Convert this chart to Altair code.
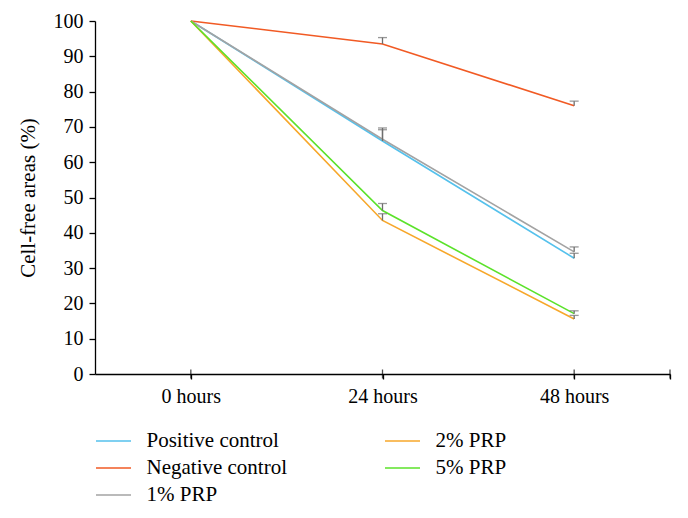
import altair as alt
import pandas as pd

hours = [0, 24, 48]
hour_labels = ["0 hours", "24 hours", "48 hours"]
axis_end = 60

series_names = ["Positive control", "Negative control", "1% PRP", "2% PRP", "5% PRP"]
series_colors = ["#55c1ec", "#f15a24", "#a3a3a3", "#f7a72a", "#5be22a"]

positive_control = [100, 66.0, 32.8]
negative_control = [100, 93.5, 76.0]
prp_1 = [100, 66.5, 34.6]
prp_2 = [100, 43.5, 15.6]
prp_5 = [100, 46.3, 17.1]

err_positive = [0, 3.2, 1.4]
err_negative = [0, 1.8, 1.3]
err_prp1 = [0, 3.2, 1.4]
err_prp2 = [0, 1.9, 1.0]
err_prp5 = [0, 2.0, 0.8]

values = [positive_control, negative_control, prp_1, prp_2, prp_5]
errors = [err_positive, err_negative, err_prp1, err_prp2, err_prp5]

rows = []
for name, vals, errs in zip(series_names, values, errors):
    for h, v, e in zip(hours, vals, errs):
        rows.append({"series": name, "hours": h, "value": v, "upper": v + e, "err": e})
df = pd.DataFrame(rows)

FONT = "Times New Roman, Liberation Serif, DejaVu Serif, serif"

label_expr = ("datum.value == 0 ? '" + hour_labels[0] + "' : datum.value == 24 ? '" + hour_labels[1]
              + "' : datum.value == 48 ? '" + hour_labels[2] + "' : ''")

x_axis = alt.Axis(
    values=hours + [axis_end], labelExpr=label_expr, title=None, grid=False,
    tickSize=5, labelPadding=7, labelFontSize=20, labelFont=FONT,
    domainColor="black", tickColor="black", labelColor="black",
    domainWidth=1.3, tickWidth=1.3, labelFlush=False,
)
x_scale = alt.Scale(domain=[-12, axis_end], nice=False, zero=False)
y_scale = alt.Scale(domain=[0, 100], nice=False)
y_axis = alt.Axis(
    values=list(range(0, 101, 10)), title="Cell-free areas (%)", grid=False,
    tickSize=6, labelPadding=6, labelFontSize=20, labelFont=FONT,
    titleFont=FONT, titleFontSize=21, titleFontWeight="normal", titlePadding=15,
    domainColor="black", tickColor="black", labelColor="black", titleColor="black",
    domainWidth=1.3, tickWidth=1.3,
)

X = alt.X("hours:Q", scale=x_scale, axis=x_axis)

lines = alt.Chart(df).mark_line(strokeWidth=1.6).encode(
    x=X,
    y=alt.Y("value:Q", scale=y_scale, axis=y_axis),
    color=alt.Color(
        "series:N",
        scale=alt.Scale(domain=series_names, range=series_colors),
        legend=alt.Legend(
            title=None, orient="none", legendX=7.5, legendY=409, columns=2,
            symbolType="M-1.75,0H1.75", symbolSize=400, symbolStrokeWidth=1.6,
            labelFont=FONT, labelFontSize=21, labelColor="black", labelOffset=22,
            columnPadding=94, rowPadding=6,
        ),
    ),
    detail="series:N",
)

err_df = df[df["err"] > 0]
rules = alt.Chart(err_df).mark_rule(color="#6e6e6e", strokeWidth=1.3).encode(
    x=X, y=alt.Y("value:Q", scale=y_scale, axis=y_axis), y2="upper:Q"
)
caps = alt.Chart(err_df).mark_tick(color="#6e6e6e", orient="horizontal", size=9, thickness=1.3).encode(
    x=X, y=alt.Y("upper:Q", scale=y_scale, axis=y_axis)
)

# x-axis ticks cross the axis line in the reference
tick_df = pd.DataFrame({"hours": hours + [axis_end]})
cross_ticks = alt.Chart(tick_df).mark_tick(color="black", orient="vertical", size=9, thickness=1.3).encode(
    x=X, y=alt.value(353)
)

chart = alt.layer(lines, rules, caps, cross_ticks).properties(
    width=575, height=353,
    autosize=alt.AutoSizeParams(type="none"),
    padding={"left": 87, "top": 13, "right": 10, "bottom": 136},
).configure_view(stroke=None)

chart.save("out.html", embed_options={"renderer": "svg", "actions": False})
